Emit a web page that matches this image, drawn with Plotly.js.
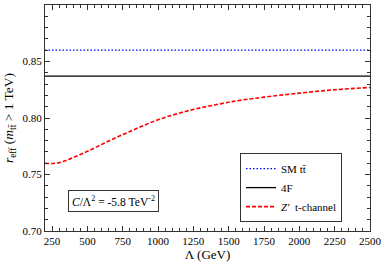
<!DOCTYPE html>
<html>
<head>
<meta charset="utf-8">
<script src="https://cdn.plot.ly/plotly-3.0.1.min.js"></script>
<style>html,body{margin:0;padding:0;background:#fff;}#plot{width:383px;height:262px;}</style>
</head>
<body>
<div id="plot"></div>
<script>
// Data
const lambdaGeV = [200, 250, 300, 350, 400, 500, 600, 700, 800, 900, 1000, 1100, 1200, 1300, 1400, 1500, 1600, 1750, 2000, 2250, 2500];
const zprimeT = [0.760, 0.7597, 0.7605, 0.7625, 0.765, 0.7705, 0.7765, 0.7825, 0.788, 0.7935, 0.7985, 0.8025, 0.806, 0.809, 0.8115, 0.814, 0.816, 0.8185, 0.822, 0.825, 0.827];
const lineX = [200, 2500];
const smValue = 0.860;
const fourFValue = 0.837;
const seriesNames = ["SM tt\u0304", "4F", "<i>Z\u2032</i>  t-channel"];
const xTickVals = [250, 500, 750, 1000, 1250, 1500, 1750, 2000, 2250, 2500];
const yTickVals = [0.70, 0.75, 0.80, 0.85, 0.90];
const annotationText = "<i>C</i>/\u039B<sup>2</sup> = -5.8 TeV<sup>-2</sup>";

const font = "Liberation Serif";

const traces = [
  {x: lineX, y: [smValue, smValue], mode: "lines", name: seriesNames[0],
   line: {color: "#0000ff", width: 1.3, dash: "1.5px,2px"}},
  {x: lineX, y: [fourFValue, fourFValue], mode: "lines", name: seriesNames[1],
   line: {color: "#000000", width: 1.3}},
  {x: lambdaGeV, y: zprimeT, mode: "lines", name: seriesNames[2], line: {shape: "spline", smoothing: 1,
   color: "#ff0000", width: 1.6, dash: "4px,2px"}}
];

const axisCommon = {
  showgrid: false, zeroline: false, showline: true, linecolor: "#333", linewidth: 1,
  mirror: "allticks", ticks: "inside", ticklen: 5, tickwidth: 1, tickcolor: "#333",
  tickfont: {family: font, size: 11, color: "#000"}
};

const layout = {
  width: 383, height: 262,
  margin: {l: 45, r: 13, t: 5, b: 31, pad: 0},
  paper_bgcolor: "#fff", plot_bgcolor: "#fff",
  font: {family: font, color: "#000"},
  showlegend: true,
  legend: {x: 0.6, y: 0.192, xanchor: "left", yanchor: "middle", itemwidth: 30,
    bordercolor: "#333", borderwidth: 1, bgcolor: "#fff",
    font: {family: font, size: 11, color: "#000"}, tracegroupgap: 0},
  xaxis: Object.assign({}, axisCommon, {
    range: [200, 2500], tickvals: xTickVals, ticktext: xTickVals.map(String),
    minor: {dtick: 50, tick0: 0, ticks: "inside", ticklen: 3, tickcolor: "#333"},
    title: {text: "\u039B (GeV)", font: {family: font, size: 13}, standoff: 0},
    automargin: false
  }),
  yaxis: Object.assign({}, axisCommon, {
    range: [0.70, 0.90], tickvals: yTickVals, ticktext: yTickVals.map(v => v.toFixed(2)),
    minor: {dtick: 0.01, tick0: 0, ticks: "inside", ticklen: 3, tickcolor: "#333"},
    title: {text: "<i>r</i><sub>eff</sub> (<i>m</i><sub>tt\u0304</sub> &gt; 1 TeV)", font: {family: font, size: 13.5}, standoff: 5},
    automargin: false
  }),
  annotations: [{
    xref: "paper", yref: "paper", x: 0.212, y: 0.133, xanchor: "center", yanchor: "middle",
    text: annotationText, showarrow: false, font: {family: font, size: 11.5, color: "#000"},
    bordercolor: "#333", borderwidth: 1, borderpad: 3, bgcolor: "#fff"
  }]
};

Plotly.newPlot("plot", traces, layout, {staticPlot: true, displayModeBar: false});
</script>
</body>
</html>
